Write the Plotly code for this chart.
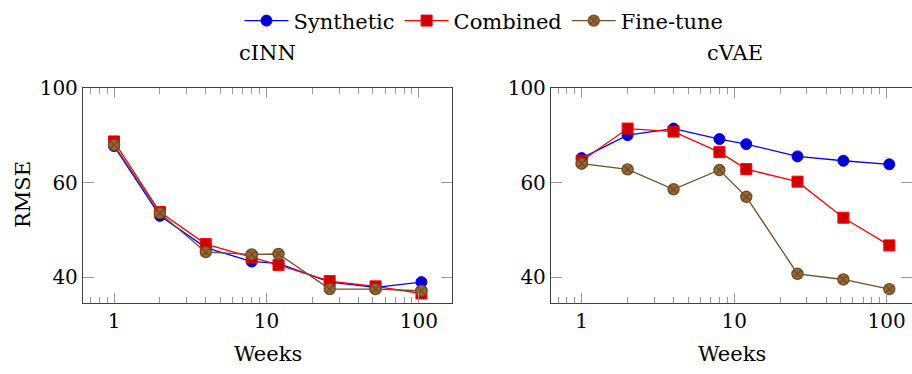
import plotly.graph_objects as go

# ---- data ----
weeks = [1, 2, 4, 8, 12, 26, 52, 104]

cinn_synthetic = [75.4, 53.7, 46.0, 43.0, 42.6, 38.9, 37.9, 38.9]
cinn_combined = [77.1, 54.7, 46.8, 43.9, 42.3, 39.1, 38.1, 36.8]
cinn_finetune = [75.8, 54.4, 45.0, 44.5, 44.6, 37.6, 37.6, 37.3]

cvae_synthetic = [71.1, 79.5, 82.1, 78.0, 76.1, 71.7, 70.2, 69.0]
cvae_combined = [70.2, 82.1, 80.9, 73.2, 67.4, 63.4, 53.2, 46.5]
cvae_finetune = [69.2, 67.3, 61.1, 67.1, 58.9, 40.5, 39.4, 37.6]

series_names = ["Synthetic", "Combined", "Fine-tune"]
panel_titles = ["cINN", "cVAE"]
y_tickvals = [10 ** 1.6, 10 ** 1.8, 100]
y_ticktext = ["40", "60", "100"]
x_tickvals = [1, 10, 100]
x_ticktext = ["1", "10", "100"]
x_minor = [0.7, 0.8, 0.9, 2, 3, 4, 5, 6, 7, 8, 9,
           20, 30, 40, 50, 60, 70, 80, 90, 200]

# ---- styles ----
styles = [
    dict(line="#0000FF", fill="#0000CC", symbol="circle", size=11, mlw=1),
    dict(line="#FF0000", fill="#CC0000", symbol="square", size=11, mlw=1),
    dict(line="#734D26", fill="#996633", symbol="circle-x", size=11, mlw=1.4),
]
FONT = "DejaVu Serif"

fig = go.Figure()
panels = [
    (cinn_synthetic, cinn_combined, cinn_finetune),
    (cvae_synthetic, cvae_combined, cvae_finetune),
]
for p, data in enumerate(panels):
    xa = "x" if p == 0 else "x2"
    ya = "y" if p == 0 else "y2"
    for i, vals in enumerate(data):
        st = styles[i]
        fig.add_trace(go.Scatter(
            x=weeks, y=vals, mode="lines+markers", name=series_names[i],
            showlegend=(p == 0), xaxis=xa, yaxis=ya, cliponaxis=True,
            line=dict(color=st["line"], width=1.3),
            marker=dict(symbol=st["symbol"], size=st["size"], color=st["fill"],
                        line=dict(color=st["line"], width=st["mlw"])),
        ))

W, H = 912, 374
L, R, T, B = 83, 0, 85, 71
pw = W - L - R
ph = H - T - B


def px_x(x):
    return (x - L) / pw


def px_y(y):
    return (H - B - y) / ph


axis_common = dict(
    type="log", showgrid=False, zeroline=False,
    showline=True, linecolor="#404040", linewidth=1.3, mirror="ticks",
    ticks="inside", ticklen=10, tickwidth=1, tickcolor="#9a9a9a",
    tickvals=x_tickvals, ticktext=x_ticktext,
    tickfont=dict(family=FONT, size=20, color="black"),
    minor=dict(tickvals=x_minor, ticks="inside", ticklen=6, tickwidth=1,
               tickcolor="#9a9a9a", showgrid=False),
)
yaxis_common = dict(
    type="log", showgrid=False, zeroline=False,
    showline=True, linecolor="#404040", linewidth=1.3, mirror="ticks",
    ticks="inside", ticklen=11, tickwidth=1, tickcolor="#9a9a9a",
    tickvals=y_tickvals, ticktext=y_ticktext,
    tickfont=dict(family=FONT, size=20, color="black"),
    range=[1.5458, 2.0],
)

fig.update_layout(
    width=W, height=H,
    margin=dict(l=L, r=R, t=T, b=B, pad=0),
    paper_bgcolor="white", plot_bgcolor="white",
    font=dict(family=FONT, size=21, color="black"),
    xaxis=dict(axis_common, domain=[0, px_x(452)], range=[-0.2035, 2.2175], anchor="y"),
    xaxis2=dict(axis_common, domain=[px_x(551), 1.0], range=[-0.2014, 2.166], anchor="y2"),
    yaxis=dict(yaxis_common, domain=[0, 1], anchor="x"),
    yaxis2=dict(yaxis_common, domain=[0, 1], anchor="x2"),
    legend=dict(orientation="h", x=px_x(484), xanchor="center", y=px_y(17), yanchor="middle",
                font=dict(family=FONT, size=21), bgcolor="rgba(0,0,0,0)",
                itemwidth=44, tracegroupgap=0),
    showlegend=True,
)

annots = [
    dict(text=panel_titles[0], x=px_x(267), y=px_y(50)),
    dict(text=panel_titles[1], x=px_x(735), y=px_y(50)),
    dict(text="Weeks", x=px_x(267.5), y=px_y(355)),
    dict(text="Weeks", x=px_x(731.5), y=px_y(355)),
    dict(text="RMSE", x=px_x(22.5), y=px_y(193), textangle=-90),
]
for a in annots:
    fig.add_annotation(xref="paper", yref="paper", showarrow=False,
                       xanchor="center", yanchor="middle",
                       font=dict(family=FONT, size=21, color="black"), **a)

fig.write_html("out.html")
